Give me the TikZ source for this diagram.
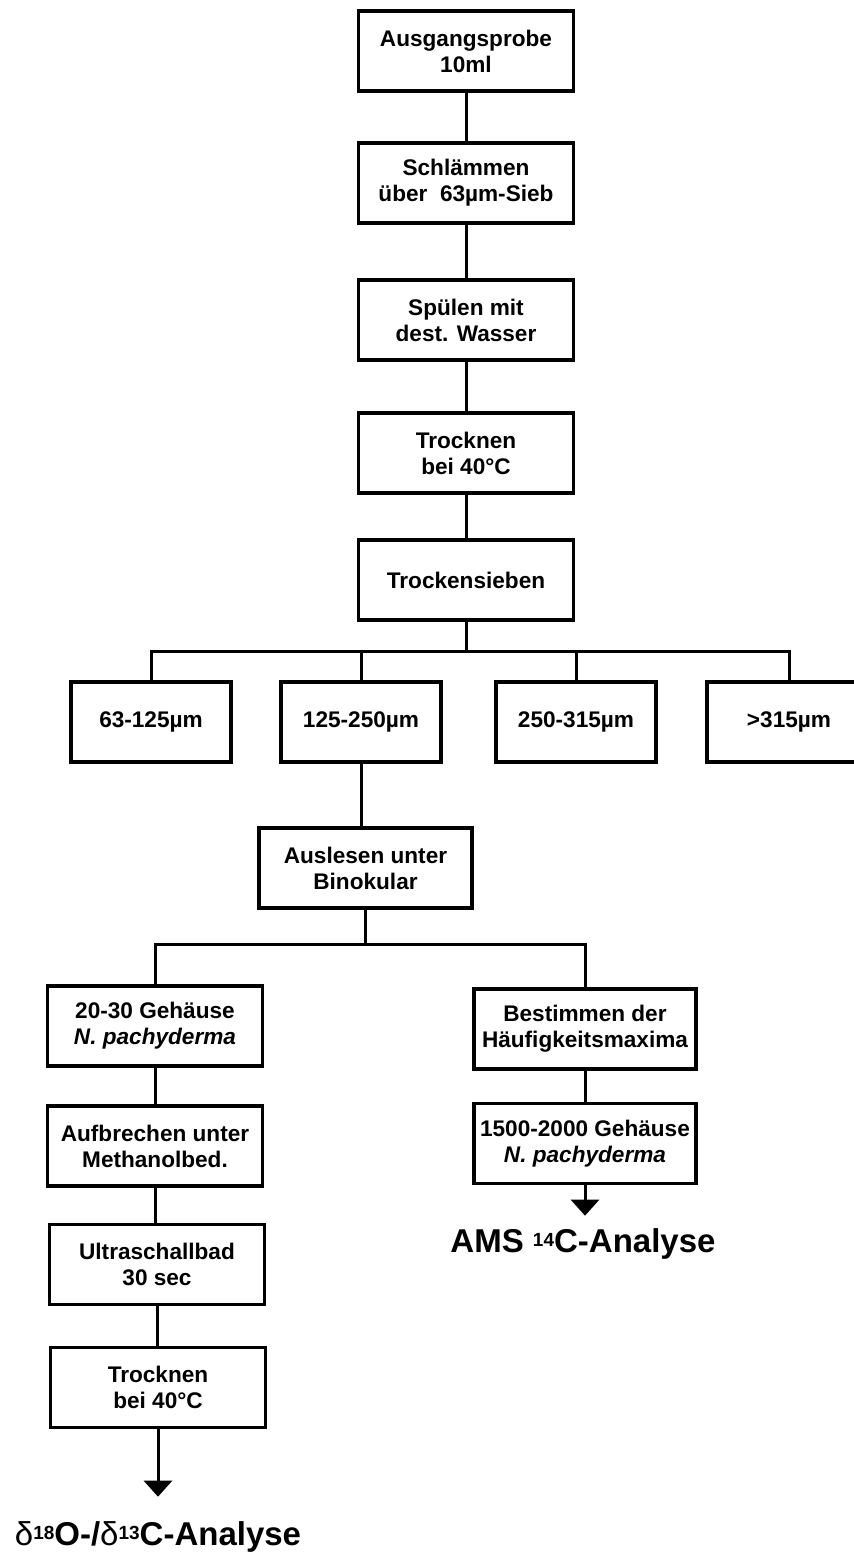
\documentclass[tikz,border=0pt]{standalone}
\usepackage{fontspec}
\setmainfont{Liberation Sans}
\usetikzlibrary{arrows.meta}
\newcommand\isot[1]{\raisebox{2.6pt}{\fontsize{9.5}{9.5}\selectfont #1}}

\begin{document}
\begin{tikzpicture}[x=0.5pt,y=-0.5pt,
  font=\fontsize{11.3}{13}\selectfont\bfseries,
  stufe/.style={draw=black,line width=1.6pt,align=center,inner sep=0pt,minimum width=#1,minimum height=40pt},
  stufe/.default=107.5pt,
  wire/.style={line width=1.5pt,draw=black},
  ziel/.style={font=\fontsize{16.5}{18}\selectfont\bfseries,anchor=base,inner sep=0pt},
  >={Triangle[width=14pt,length=8pt]}]
\useasboundingbox (0,0) rectangle (854,1553);
\clip (0,0) rectangle (854,1553);
% ---- main column
\node[stufe] (probe) at (466,51) {Ausgangsprobe\\ 10ml};
\node[stufe] (schlaemmen) at (466,183) {Schlämmen\\ über~~63µm-Sieb};
\node[stufe] (spuelen) at (466,320) {Spülen mit\\ dest. Wasser};
\node[stufe] (trocknenA) at (466,453) {Trocknen\\ bei 40°C};
\node[stufe] (sieben) at (466,580) {Trockensieben};
\draw[wire] (probe) -- (schlaemmen);
\draw[wire] (schlaemmen) -- (spuelen);
\draw[wire] (spuelen) -- (trocknenA);
\draw[wire] (trocknenA) -- (sieben);
% ---- size fractions
\coordinate (busS) at (0,651);
\node[stufe=80pt] (fa) at (151,722) {63-125µm};
\node[stufe=80pt] (fb) at (361,722) {125-250µm};
\node[stufe=80pt] (fc) at (576,722) {250-315µm};
\node[stufe=82pt] (fd) at (789,722) {>315µm};
\draw[wire] (sieben.south) -- (sieben.south |- busS);
\draw[wire] (fa.north) |- (fd.north |- busS) -- (fd.north);
\draw[wire] (fb.north) -- (fb.north |- busS);
\draw[wire] (fc.north) -- (fc.north |- busS);
\node[stufe=106.5pt] (auslesen) at (365.5,868) {Auslesen unter\\ Binokular};
\draw[wire] (fb.south) -- (fb.south |- auslesen.north);
% ---- split after picking
\coordinate (busA) at (0,944);
\node[stufe] (gehaeuseA) at (155,1026) {20-30 Gehäuse\\ \textit{N. pachyderma}};
\node[stufe=111pt] (bestimmen) at (585,1029) {Bestimmen der\\ Häufigkeitsmaxima};
\draw[wire] (auslesen.south) -- (auslesen.south |- busA);
\draw[wire] (gehaeuseA.north) |- (bestimmen.north |- busA) -- (bestimmen.north);
% ---- left column: stable isotopes
\node[stufe] (aufbrechen) at (155,1146) {Aufbrechen unter\\ Methanolbed.};
\node[stufe] (ultraschall) at (157,1264.5) {Ultraschallbad\\ 30 sec};
\node[stufe] (trocknenB) at (158,1387.5) {Trocknen\\ bei 40°C};
\draw[wire] (gehaeuseA) -- (aufbrechen);
\draw[wire] (aufbrechen.south) -- (aufbrechen.south |- ultraschall.north);
\draw[wire] (ultraschall.south) -- (ultraschall.south |- trocknenB.north);
\node[ziel] (deltaziel) at (158,1545) {{\mdseries δ}\isot{18}O-/{\mdseries δ}\isot{13}C-Analyse};
\draw[wire,->,shorten >=12pt] (trocknenB.south) -- (trocknenB.south |- deltaziel.north);
% ---- right column: radiocarbon
\node[stufe=111pt] (gehaeuseB) at (585,1143.5) {1500-2000 Gehäuse\\ \textit{N. pachyderma}};
\draw[wire] (bestimmen) -- (gehaeuseB);
\node[ziel] (amsziel) at (583,1252) {AMS \isot{14}C-Analyse};
\draw[wire,->,shorten >=6pt] (gehaeuseB.south) -- (gehaeuseB.south |- amsziel.north);
\end{tikzpicture}
\end{document}
